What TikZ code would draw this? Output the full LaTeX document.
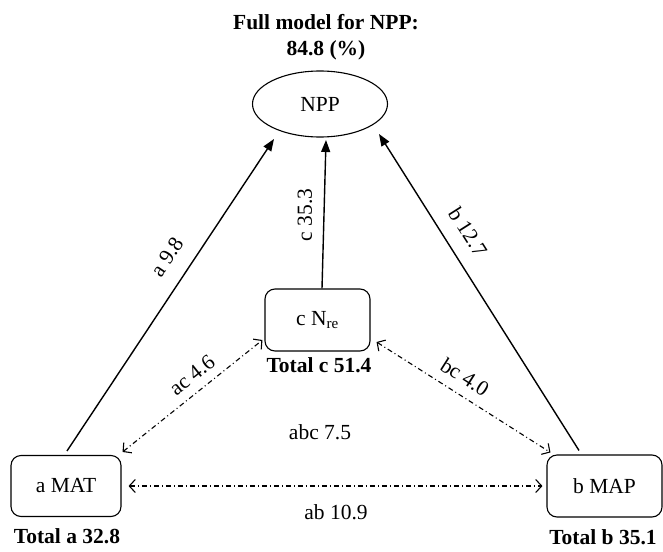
\documentclass[tikz,border=0pt]{standalone}
\usepackage{fontspec}
\setmainfont{Liberation Serif}
\usetikzlibrary{arrows.meta,shapes.geometric}
\begin{document}
\begin{tikzpicture}[x=1pt,y=-1pt,
  every node/.style={font=\fontsize{21.5}{26}\selectfont},
  box/.style={draw,line width=1.1pt,rounded corners=10pt,minimum width=110pt,minimum height=61pt,inner sep=0pt},
  tot/.style={font=\fontsize{21.5}{26}\selectfont\bfseries},
  solidarr/.style={line width=1.4pt,-{Triangle[length=12pt,width=9pt]}},
  corr/.style={line width=1.1pt,dash pattern=on 5pt off 3pt on 1pt off 3pt,{Straight Barb[length=6pt,width=13pt,line width=1.1pt]}-{Straight Barb[length=6pt,width=13pt,line width=1.1pt]}},
  lbl/.style={inner sep=0pt}]
\useasboundingbox (0,0) rectangle (663,551);
% title
\node[tot,align=center] (title) at (326,37) {Full model for NPP:\\84.8 (\%)};
% nodes
\node[draw,ellipse,line width=1.1pt,minimum width=135pt,minimum height=66pt,inner sep=0pt] (npp) at (320,104) {NPP};
\node[box,minimum width=105pt,minimum height=62pt] (c) at (317.5,320) {c N\textsubscript{re}};
\node[box] (a) at (66,486) {a MAT};
\node[box,minimum width=115pt,minimum height=62pt] (b) at (604.5,486) {b MAP};
% totals
\node[tot] (tc) at (319,365) {Total c 51.4};
\node[tot] (ta) at (67,536) {Total a 32.8};
\node[tot] (tb) at (603,537) {Total b 35.1};
% target points below NPP
\coordinate (tA) at ([shift={(-46,35)}]npp.center);
\coordinate (tC) at ([shift={(6,36)}]npp.center);
\coordinate (tB) at ([shift={(59,30)}]npp.center);
% solid arrows
\draw[solidarr] ([shift={(1,-4)}]a.north) -- (tA);
\draw[solidarr] ([shift={(4.5,0)}]c.north) -- (tC);
\draw[solidarr] ([shift={(-25.5,-4)}]b.north) -- (tB);
% correlations
\draw[corr] ([shift={(1,-3)}]a.north east) -- ([shift={(-2,20)}]c.west);
\draw[corr] ([shift={(6,22)}]c.east) -- ([shift={(4,-2)}]b.north west);
\draw[corr] ([shift={(7,0)}]a.east) -- ([shift={(-4,0)}]b.west);
% labels
\node[lbl,rotate=56.3] (la) at (167,257) {a 9.8};
\node[lbl,rotate=90] (lc) at (305,215) {c 35.3};
\node[lbl,rotate=-57.6] (lb) at (468,232) {b 12.7};
\node[lbl,rotate=38.7] (lac) at (192,375) {ac 4.6};
\node[lbl,rotate=-32.5] (lbc) at (465,377) {bc 4.0};
\node[lbl] (labc) at (320,432) {abc 7.5};
\node[lbl] (lab) at (336,512) {ab 10.9};
\end{tikzpicture}
\end{document}
